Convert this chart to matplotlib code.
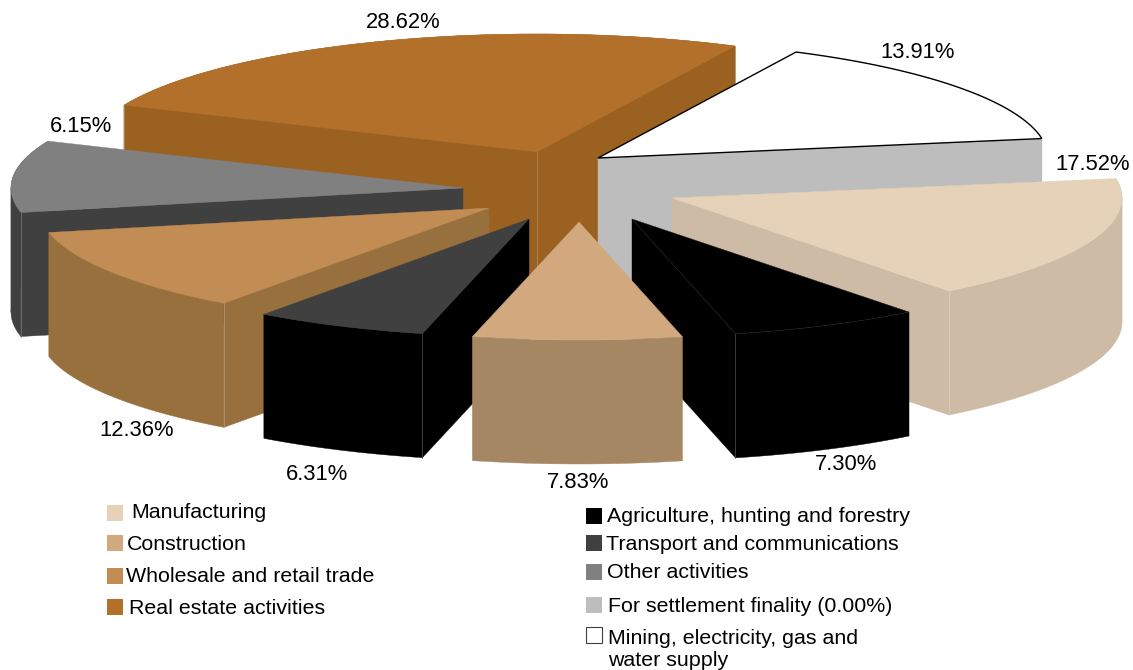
import numpy as np
import matplotlib
matplotlib.use('Agg')
import matplotlib.pyplot as plt
from matplotlib.patches import Polygon, Rectangle
from matplotlib.colors import to_rgb

plt.rcParams['font.family'] = ['Liberation Sans', 'DejaVu Sans']

# slices in draw order, back to front
names = ['Real estate activities', 'Mining, electricity, gas and\nwater supply', 'Other activities',
         'Manufacturing', 'Wholesale and retail trade', 'Transport and communications',
         'Agriculture, hunting and forestry', 'Construction']
pct_labels = ['28.62%', '13.91%', '6.15%', '17.52%', '12.36%', '6.31%', '7.30%', '7.83%']

# printed labels don't match the drawn sweep (perspective), so sizes are read off the shape
# clockwise order from the top left
clock_order = ['Real estate activities', 'Mining, electricity, gas and\nwater supply', 'Manufacturing',
               'Agriculture, hunting and forestry', 'Construction', 'Transport and communications',
               'Wholesale and retail trade', 'Other activities']
drawn_sizes = [25.75, 15.11, 17.08, 6.86, 7.50, 6.22, 11.64, 9.83]

top_colors = ['#B2702B', '#FFFFFF', '#808080', '#E5D2B8', '#C28D54', '#404040', '#000000', '#D2A97E']
side_colors = ['#9A6121', '#BDBDBD', '#404040', '#CDBBA5', '#97703E', '#000000', '#000000', '#A58863']

# layout, pixels
apex_x = [537, 598, 463, 672, 489, 529, 632, 579]
apex_y = [152, 158, 188, 198, 208, 219, 219, 222]
rim_x = [450, 450, 452, 450, 450, 450, 450, 450]
rim_y = 118
depth = 124
start_deg = -66.6

label_x = [403, 918, 81, 1093, 137, 317, 846, 578]
label_y = [23, 52, 126, 165, 431, 474, 465, 483]

legend_left = ['Manufacturing', 'Construction', 'Wholesale and retail trade', 'Real estate activities']
legend_left_colors = ['#E5D2B8', '#D2A97E', '#C28D54', '#B2702B']
legend_left_sq_y = [513, 543, 576, 607]
legend_left_text_x = [131, 127, 126, 129]
legend_left_text_y = [513, 544, 577, 608]

legend_right = ['Agriculture, hunting and forestry', 'Transport and communications', 'Other activities',
                'For settlement finality (0.00%)', 'Mining, electricity, gas and\nwater supply']
legend_right_colors = ['#000000', '#404040', '#808080', '#BDBDBD', '#FFFFFF']
legend_right_sq_y = [516, 543, 572, 605, 635]
legend_right_text_x = [607, 606, 607, 608, 608]
legend_right_text_y = [517, 544, 573, 606, 649]

fig = plt.figure(figsize=(11.33, 6.70), dpi=100)
ax = fig.add_axes([0, 0, 1, 1])
ax.set_xlim(0, 1133)
ax.set_ylim(670, 0)
ax.axis('off')

# sweep of each slice in degrees
scaled = 360 * np.array(drawn_sizes) / sum(drawn_sizes)
edges = start_deg + np.concatenate([[0], np.cumsum(scaled)])
sweep = {n: (edges[i], edges[i + 1]) for i, n in enumerate(clock_order)}


def rim(i, a, b, n=120):
    t = np.radians(np.linspace(a, b, n))
    return np.column_stack([apex_x[i] + rim_x[i] * np.sin(t), apex_y[i] - rim_y * np.cos(t)])


def paler(c):
    return tuple(v + (1 - v) * 0.3 for v in to_rgb(c))


for i, name in enumerate(names):
    a, b = sweep[name]
    arc = rim(i, a, b)
    apex = np.array([apex_x[i], apex_y[i]])
    down = np.array([0, depth])
    side = side_colors[i]
    z = i * 3
    mid = arc[len(arc) // 2]
    # only the cut faces turned towards the viewer
    corners = []
    for p in (arc[0], arc[-1]):
        line_y = apex[1] + (p[1] - apex[1]) * (mid[0] - apex[0]) / (p[0] - apex[0])
        if mid[1] < line_y:
            face = [apex, p, p + down, apex + down]
            ax.add_patch(Polygon(face, closed=True, fc=side, ec=side, lw=0.3, zorder=z + 1))
            corners.append(p)
    # wall, cut where the arc turns back at the far left and right so each piece stays simple
    turns = np.where(np.diff(np.sign(np.diff(arc[:, 0]))) != 0)[0] + 1
    for piece in np.split(np.arange(len(arc)), turns):
        seg = arc[np.r_[piece, min(piece[-1] + 1, len(arc) - 1)]]
        wall = np.vstack([seg, (seg + down)[::-1]])
        ax.add_patch(Polygon(wall, closed=True, fc=side, ec=side, lw=0.3, zorder=z + 2))
    top = np.vstack([apex, arc])
    if name.startswith('Mining'):
        ax.add_patch(Polygon(top, closed=True, fc='white', ec='black', lw=1.0, zorder=z + 3))
    else:
        edge = '#2A2A2A' if top_colors[i] == '#000000' else top_colors[i]
        ax.add_patch(Polygon(top, closed=True, fc=top_colors[i], ec=edge, lw=0.3, zorder=z + 3))
        # pale line down the visible corners
        for p in corners:
            ax.plot([p[0], p[0]], [p[1], p[1] + depth], color=paler(side), lw=0.5, zorder=z + 2.5)
        if len(corners) == 2:
            ax.plot([apex[0], apex[0]], [apex[1], apex[1] + depth], color=paler(side), lw=0.5, zorder=z + 2.5)

for i in range(len(pct_labels)):
    ax.text(label_x[i], label_y[i], pct_labels[i], fontsize=15.8, ha='center', va='center', zorder=50)

for name, c, sy, tx, ty in zip(legend_left, legend_left_colors, legend_left_sq_y, legend_left_text_x, legend_left_text_y):
    ax.add_patch(Rectangle((107, sy - 8), 16, 16, fc=c, ec='none', zorder=50))
    ax.text(tx, ty, name, fontsize=15.4, ha='left', va='center', zorder=50)

for name, c, sy, tx, ty in zip(legend_right, legend_right_colors, legend_right_sq_y, legend_right_text_x, legend_right_text_y):
    ec = '#404040' if c == '#FFFFFF' else 'none'
    ax.add_patch(Rectangle((586, sy - 8), 16, 16, fc=c, ec=ec, lw=0.8, zorder=50))
    ax.text(tx, ty, name, fontsize=15.4, ha='left', va='center', linespacing=1.2, zorder=50)

fig.savefig('out.png', dpi=100)
